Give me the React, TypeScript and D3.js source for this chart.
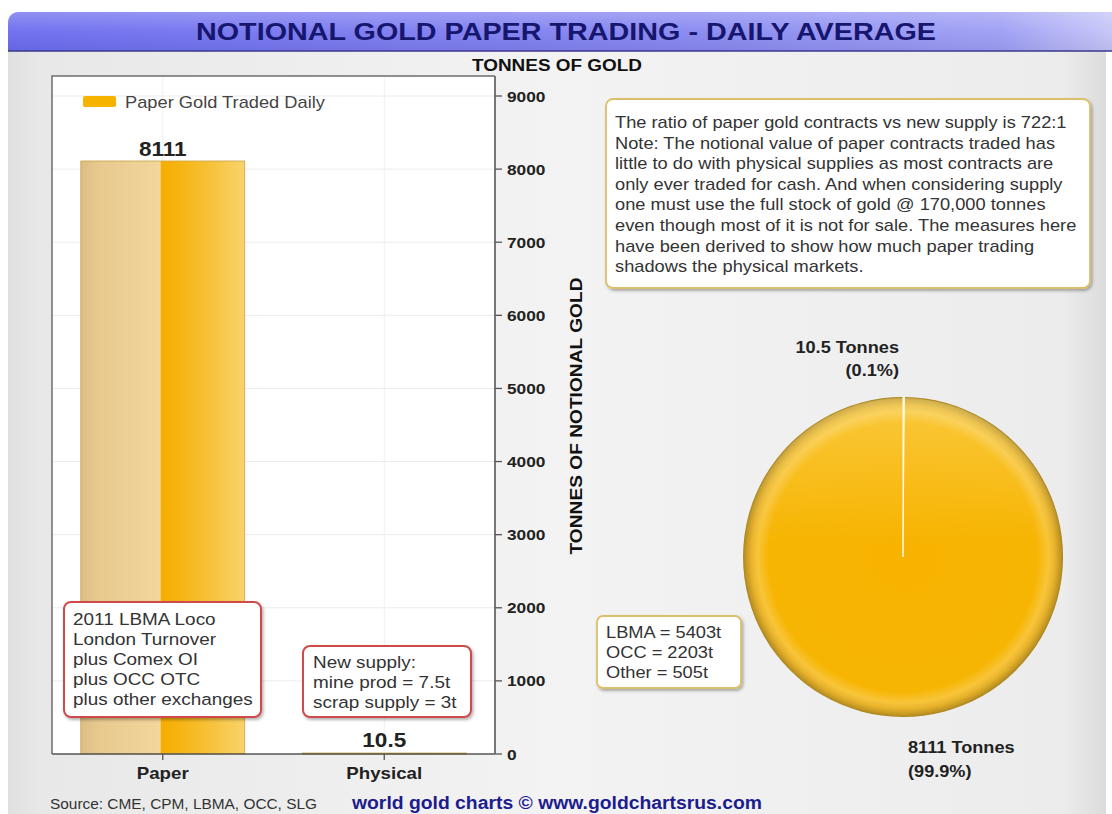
import React, { useRef, useLayoutEffect } from 'react';
import * as d3 from 'd3';

// ---------- data ----------
const categories = ['Paper', 'Physical'];
const tonnes = [8111, 10.5];
const valueLabels = ['8111', '10.5'];
const yTicks = [0, 1000, 2000, 3000, 4000, 5000, 6000, 7000, 8000, 9000];
const pieNames = ['Physical', 'Paper'];
const pieValues = [10.5, 8111];
const pieTopLabel = ['10.5 Tonnes', '(0.1%)'];
const pieBottomLabel = ['8111 Tonnes', '(99.9%)'];
const legendLabel = 'Paper Gold Traded Daily';
const noteLines = [
  'The ratio of paper gold contracts vs new supply is 722:1',
  'Note: The notional value of paper contracts traded has',
  'little to do with physical supplies as most contracts are',
  'only ever traded for cash. And when considering supply',
  'one must use the full stock of gold @ 170,000 tonnes',
  'even though most of it is not for sale. The measures here',
  'have been derived to show how much paper trading',
  'shadows the physical markets.',
];
const paperNote = ['2011 LBMA Loco', 'London Turnover', 'plus Comex OI', 'plus OCC OTC', 'plus other exchanges'];
const supplyNote = ['New supply:', 'mine prod = 7.5t', 'scrap supply = 3t'];
const breakdown = ['LBMA = 5403t', 'OCC = 2203t', 'Other = 505t'];
const title = 'NOTIONAL GOLD PAPER TRADING - DAILY AVERAGE';
const topAxisTitle = 'TONNES OF GOLD';
const yAxisTitle = 'TONNES OF NOTIONAL GOLD';
const sourceText = 'Source: CME, CPM, LBMA, OCC, SLG';
const creditText = 'world gold charts \u00A9 www.goldchartsrus.com';

const FONT = '"Liberation Sans", Arial, Helvetica, sans-serif';

type TProps = {
  x?: number; y?: number; size?: number; weight?: string | number; anchor?: string;
  fill?: string; stretch?: number; length?: number; transform?: string; children: React.ReactNode;
};

function T({ x = 0, y = 0, size = 16, weight = 'normal', anchor = 'start', fill = '#333', stretch = 1.1, length, transform, children }: TProps) {
  const ref = useRef<SVGTextElement>(null);
  useLayoutEffect(() => {
    const el = ref.current;
    if (!el) return;
    el.removeAttribute('textLength');
    const w = length ?? el.getComputedTextLength() * stretch;
    el.setAttribute('textLength', String(w));
    el.setAttribute('lengthAdjust', 'spacingAndGlyphs');
  });
  return (
    <text ref={ref} x={x} y={y} fontSize={size} fontWeight={weight} textAnchor={anchor as any}
      fill={fill} fontFamily={FONT} transform={transform}>{children}</text>
  );
}

export default function App() {
  const W = 1112, H = 814;
  const plot = { left: 52, right: 495, top: 76, bottom: 754 };
  const x = d3.scaleBand<string>().domain(categories).range([plot.left, plot.right]).paddingInner(0.26).paddingOuter(0.13);
  const y = d3.scaleLinear().domain([0, 9000]).range([plot.bottom, 96]);

  const pieC = { x: 903, y: 557 };
  const R = 160;
  const pie = d3.pie<number>().sort(null).value(d => d)(pieValues);
  const arc = d3.arc<d3.PieArcDatum<number>>().innerRadius(0).outerRadius(R);

  return (
    <svg width={W} height={H} style={{ position: 'absolute', left: 0, top: 0, display: 'block' }}>
      <defs>
        <linearGradient id="panelG" x1="0" x2="1" y1="0" y2="0">
          <stop offset="0" stopColor="#e0e0e0" />
          <stop offset="0.03" stopColor="#e8e8e8" />
          <stop offset="0.5" stopColor="#f3f3f3" />
          <stop offset="0.96" stopColor="#ececec" />
          <stop offset="1" stopColor="#dcdcdc" />
        </linearGradient>
        <linearGradient id="titleG" x1="0" x2="1" y1="0" y2="0">
          <stop offset="0" stopColor="#6b6bef" />
          <stop offset="0.6" stopColor="#8585f0" />
          <stop offset="0.9" stopColor="#9d9df4" />
          <stop offset="1" stopColor="#c4c4f8" />
        </linearGradient>
        <linearGradient id="titleV" x1="0" x2="0" y1="0" y2="1">
          <stop offset="0" stopColor="#ffffff" stopOpacity="0.25" />
          <stop offset="0.5" stopColor="#ffffff" stopOpacity="0.05" />
          <stop offset="1" stopColor="#000000" stopOpacity="0.05" />
        </linearGradient>
        <linearGradient id="barG" x1="0" x2="1" y1="0" y2="0">
          <stop offset="0" stopColor="#dcbd85" />
          <stop offset="0.1" stopColor="#e7c98e" />
          <stop offset="0.485" stopColor="#f2d69c" />
          <stop offset="0.49" stopColor="#f5ae00" />
          <stop offset="0.7" stopColor="#f7bb25" />
          <stop offset="1" stopColor="#f8d36c" />
        </linearGradient>
        <radialGradient id="pieG" gradientUnits="userSpaceOnUse" cx={0} cy={0} r={R}>
          <stop offset="0" stopColor="#f8b300" />
          <stop offset="0.84" stopColor="#f7b503" />
          <stop offset="0.91" stopColor="#f8c53a" />
          <stop offset="0.95" stopColor="#e8b32c" />
          <stop offset="0.985" stopColor="#c29622" />
          <stop offset="1" stopColor="#a88420" />
        </radialGradient>
        <linearGradient id="pieGloss" x1="0" x2="0" y1="0" y2="1">
          <stop offset="0" stopColor="#fff6c0" stopOpacity="0.3" />
          <stop offset="0.45" stopColor="#fff6c0" stopOpacity="0" />
        </linearGradient>
        <filter id="shadow" x="-10%" y="-10%" width="120%" height="130%">
          <feDropShadow dx="1.5" dy="2" stdDeviation="1.5" floodColor="#000" floodOpacity="0.3" />
        </filter>
      </defs>

      {/* page panel */}
      <rect x={0} y={0} width={W} height={H} fill="#ffffff" />
      <path d={`M8,${H} L8,24 Q8,12 20,12 L1106,12 L1106,${H} Z`} fill="url(#panelG)" />
      <path d="M8,51 L8,24 Q8,12 20,12 L1112,12 L1112,51 Z" fill="url(#titleG)" />
      <path d="M8,51 L8,24 Q8,12 20,12 L1112,12 L1112,51 Z" fill="url(#titleV)" />
      <line x1={8} x2={1112} y1={51} y2={51} stroke="#3a3a90" strokeWidth={1.5} />
      <T x={566} y={40} size={24} weight="bold" anchor="middle" fill="#16166e" length={740}>{title}</T>
      <T x={557} y={71} size={16} weight="bold" anchor="middle" fill="#111" length={170}>{topAxisTitle}</T>

      {/* plot area */}
      <rect x={plot.left} y={plot.top} width={plot.right - plot.left} height={plot.bottom - plot.top} fill="#ffffff" />
      {yTicks.filter(t => t > 0).map(t => (
        <line key={'g' + t} x1={plot.left} x2={plot.right} y1={y(t)} y2={y(t)} stroke="#e9ecf2" strokeWidth={1} />
      ))}
      {categories.map(c => (
        <line key={'v' + c} x1={x(c)! + x.bandwidth() / 2} x2={x(c)! + x.bandwidth() / 2} y1={plot.top} y2={plot.bottom} stroke="#eef0f4" strokeWidth={1} />
      ))}
      <path d={`M${plot.left},${plot.bottom} L${plot.left},${plot.top} L${plot.right},${plot.top}`} fill="none" stroke="#6e6e6e" strokeWidth={1.5} />

      {/* bars */}
      {categories.map((c, i) => {
        const top = y(tonnes[i]);
        const h = Math.max(plot.bottom - top, 0.8);
        return (
          <rect key={'b' + c} x={x(c)!} y={plot.bottom - h} width={x.bandwidth()} height={h}
            fill="url(#barG)" stroke="#c9a245" strokeWidth={i === 0 ? 0.8 : 1.2} />
        );
      })}
      {categories.map((c, i) => (
        <T key={'vl' + c} x={x(c)! + x.bandwidth() / 2} y={i === 0 ? 156 : 747} size={20.5} weight="bold" anchor="middle" fill="#222">{valueLabels[i]}</T>
      ))}

      {/* legend */}
      <rect x={83} y={96} width={33} height={11} rx={2} fill="#f6b400" />
      <T x={125} y={108} size={16.6} fill="#444">{legendLabel}</T>

      {/* axes */}
      <line x1={plot.left} x2={plot.right} y1={plot.bottom} y2={plot.bottom} stroke="#555" strokeWidth={1.5} />
      <line x1={plot.right} x2={plot.right} y1={plot.top} y2={plot.bottom} stroke="#777" strokeWidth={2} />
      {yTicks.map(t => (
        <g key={'t' + t}>
          <line x1={plot.right} x2={plot.right + 7} y1={y(t)} y2={y(t)} stroke="#555" strokeWidth={1.3} />
          <T x={507} y={y(t) + 5.5} size={15} weight="bold" fill="#222" stretch={1.15}>{String(t)}</T>
        </g>
      ))}
      {categories.map(c => (
        <g key={'xt' + c}>
          <line x1={x(c)! + x.bandwidth() / 2} x2={x(c)! + x.bandwidth() / 2} y1={plot.bottom} y2={plot.bottom + 6} stroke="#555" strokeWidth={1.3} />
          <T x={x(c)! + x.bandwidth() / 2} y={779} size={17} weight="bold" anchor="middle" fill="#222">{c}</T>
        </g>
      ))}
      <T transform="translate(582,416) rotate(-90)" size={16} weight="bold" anchor="middle" fill="#111" length={277}>{yAxisTitle}</T>

      {/* annotation boxes */}
      <rect x={64} y={602} width={197} height={115} rx={7} fill="#fff" stroke="#cf4b4b" strokeWidth={2} filter="url(#shadow)" />
      {paperNote.map((l, i) => (
        <T key={'pn' + i} x={73} y={625 + i * 20} size={17.2} fill="#333">{l}</T>
      ))}
      <rect x={303} y={646} width={168} height={71} rx={7} fill="#fff" stroke="#cf4b4b" strokeWidth={2} filter="url(#shadow)" />
      {supplyNote.map((l, i) => (
        <T key={'sn' + i} x={313} y={668 + i * 20} size={17.2} fill="#333">{l}</T>
      ))}

      {/* note box */}
      <rect x={606} y={99} width={484} height={189} rx={7} fill="#fff" stroke="#dcc068" strokeWidth={1.8} filter="url(#shadow)" />
      {noteLines.map((l, i) => (
        <T key={'nl' + i} x={615} y={128 + i * 20.6} size={16.6} fill="#333">{l}</T>
      ))}

      {/* pie */}
      <g transform={`translate(${pieC.x},${pieC.y})`}>
        <path d={arc(pie[1]) || ''} fill="url(#pieG)" />
        <circle cx={0} cy={0} r={R - 1} fill="url(#pieGloss)" />
        <path d={arc(pie[0]) || ''} fill="#fff8d8" stroke="#fffbe8" strokeWidth={1} data-name={pieNames[0]} />
      </g>
      <T x={899} y={353} size={16.5} weight="bold" anchor="end" fill="#222">{pieTopLabel[0]}</T>
      <T x={899} y={376} size={16.5} weight="bold" anchor="end" fill="#222">{pieTopLabel[1]}</T>
      <T x={908} y={753} size={16.5} weight="bold" anchor="start" fill="#222">{pieBottomLabel[0]}</T>
      <T x={908} y={777} size={16.5} weight="bold" anchor="start" fill="#222">{pieBottomLabel[1]}</T>

      {/* breakdown box */}
      <rect x={597} y={616} width={144} height={72} rx={6} fill="#fff" stroke="#dcc068" strokeWidth={1.8} filter="url(#shadow)" />
      {breakdown.map((l, i) => (
        <T key={'bd' + i} x={606} y={638 + i * 20} size={16.6} fill="#333">{l}</T>
      ))}

      {/* footer */}
      <T x={50} y={809} size={14} fill="#333">{sourceText}</T>
      <T x={352} y={809} size={17.5} weight="bold" fill="#1c1c8e" length={410}>{creditText}</T>
    </svg>
  );
}
